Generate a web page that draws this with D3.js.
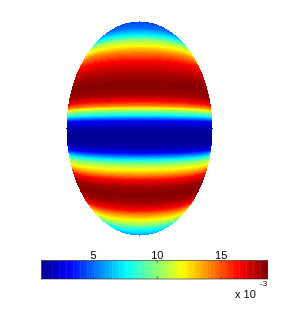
<!DOCTYPE html>
<html>
<head>
<meta charset="utf-8">
<script src="https://cdn.jsdelivr.net/npm/d3@7"></script>
<style>
  body { margin: 0; background: #fff; }
  #wrap { position: relative; width: 308px; height: 324px; }
  #wrap canvas, #wrap svg { position: absolute; left: 0; top: 0; }
  text { font-family: "Liberation Sans", Arial, sans-serif; fill: #000; }
</style>
</head>
<body>
<div id="wrap">
  <canvas id="surf" width="308" height="324"></canvas>
  <svg id="bar" width="308" height="324"></svg>
</div>
<script>
// height on the spheroid (z / c, top = 1) and value there, read down the middle column
const heights = [0.975, 0.93, 0.85, 0.764, 0.72, 0.66, 0.60, 0.525, 0.41, 0.33, 0.25, 0.205, 0.168,
  0.153, 0.131, 0.10, 0.056, 0.004, -0.071, -0.146, -0.184, -0.237, -0.268, -0.314, -0.354,
  -0.393, -0.45, -0.516, -0.586, -0.65, -0.697, -0.748, -0.803, -0.866, -0.95, -0.975];
const values = [4.2, 4.4, 5.0, 7.6, 10.0, 12.0, 14.2, 16.4, 18.0, 18.6, 18.0, 16.4, 14.0,
  12.0, 10.0, 7.6, 3.1, 1.5, 0.93, 1.5, 3.1, 7.6, 10.0, 12.0, 14.0,
  16.4, 18.0, 18.6, 18.0, 16.4, 14.0, 12.0, 10.0, 7.6, 5.9, 5.6];
const colorLimits = [0.93, 18.63];
const tickValues = [5, 10, 15];
const exponentLabel = "-3";

const jetStops = [0, 0.125, 0.375, 0.625, 0.875, 1];
const jetColors = ["#00008f", "#0000ff", "#00ffff", "#ffff00", "#ff0000", "#800000"];
const nLevels = 64;

const jet = d3.scaleLinear()
  .domain(jetStops)
  .range(jetColors)
  .interpolate(d3.interpolateRgb);

const level = d3.scaleQuantize()
  .domain(colorLimits)
  .range(d3.range(nLevels).map(i => d3.rgb(jet((i + 0.5) / nLevels))));

const profile = d3.scaleLinear()
  .domain(heights)
  .range(values)
  .clamp(true);

// spheroid outline on screen and camera distance (in equatorial radii)
const cx = 139.5, cy = 128.5, rx = 73, ry = 107;
const dist = 4.5;
const s = 1 / Math.sqrt(dist * dist - 1);

const canvas = document.getElementById("surf");
const ctx = canvas.getContext("2d");
const img = ctx.createImageData(308, 324);

for (let py = 0; py < 324; py++) {
  for (let px = 0; px < 308; px++) {
    const U = (px + 0.5 - cx) / rx;
    const V = (cy - py - 0.5) / ry;
    const r2 = U * U + V * V;
    if (r2 > 1) continue;
    const t = (dist - Math.sqrt(1 - r2)) / (1 + r2 * s * s);
    const z = t * V * s;
    const c = level(profile(z));
    const k = (py * 308 + px) * 4;
    img.data[k] = c.r;
    img.data[k + 1] = c.g;
    img.data[k + 2] = c.b;
    img.data[k + 3] = 255;
  }
}
ctx.putImageData(img, 0, 0);

// colorbar
const svg = d3.select("#bar");
const barTop = 260.5, barH = 18.5;
const x = d3.scaleLinear()
  .domain(colorLimits)
  .range([41.5, 267.5]);

const step = (colorLimits[1] - colorLimits[0]) / nLevels;
svg.append("g")
  .selectAll("rect")
  .data(d3.range(nLevels))
  .enter()
  .append("rect")
  .attr("x", i => x(colorLimits[0] + i * step))
  .attr("y", barTop)
  .attr("width", i => x(colorLimits[0] + (i + 1) * step) - x(colorLimits[0] + i * step) + 0.4)
  .attr("height", barH)
  .attr("fill", i => jet((i + 0.5) / nLevels));

svg.append("rect")
  .attr("x", x.range()[0])
  .attr("y", barTop)
  .attr("width", x.range()[1] - x.range()[0])
  .attr("height", barH)
  .attr("fill", "none")
  .attr("stroke", "#262626")
  .attr("stroke-width", 0.6);

const ticks = svg.append("g");
tickValues.forEach(v => {
  ticks.append("line")
    .attr("x1", x(v)).attr("x2", x(v))
    .attr("y1", barTop).attr("y2", barTop + 2.5)
    .attr("stroke", "#262626").attr("stroke-width", 0.6);
  ticks.append("line")
    .attr("x1", x(v)).attr("x2", x(v))
    .attr("y1", barTop + barH).attr("y2", barTop + barH - 2.5)
    .attr("stroke", "#262626").attr("stroke-width", 0.6);
  ticks.append("text")
    .attr("x", x(v))
    .attr("y", 259)
    .attr("text-anchor", "middle")
    .attr("font-size", 11)
    .text(d3.format("d")(v));
});

svg.append("text")
  .attr("x", 235)
  .attr("y", 297.5)
  .attr("font-size", 11)
  .text("x 10");
svg.append("text")
  .attr("x", 260)
  .attr("y", 285.5)
  .attr("font-size", 8)
  .text(exponentLabel);
</script>
</body>
</html>
